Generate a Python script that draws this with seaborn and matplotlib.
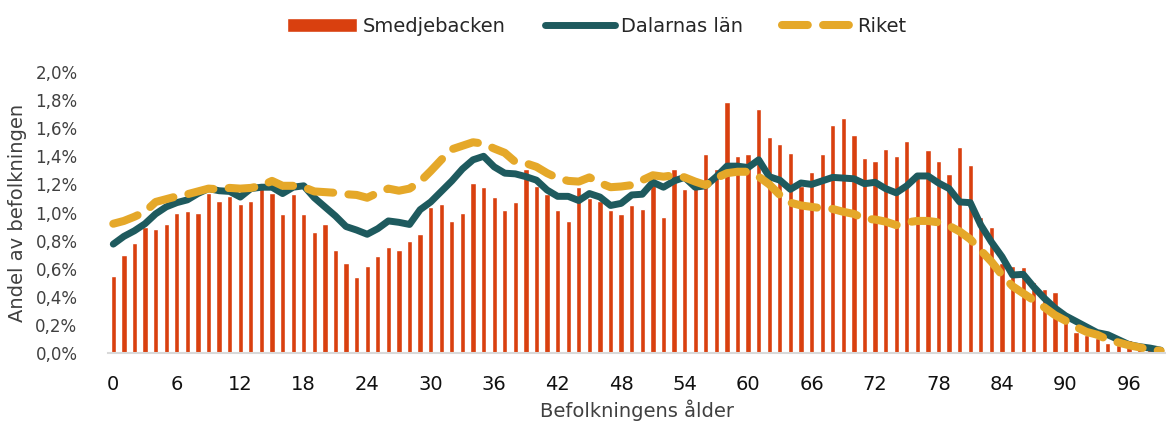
import numpy as np
import pandas as pd
import matplotlib
matplotlib.use('Agg')
import matplotlib.pyplot as plt
import seaborn as sns
from matplotlib.ticker import FuncFormatter

# data: andel av befolkningen (%) per ålder 0-99
ages = list(range(100))

smedjebacken = [
    0.55, 0.70, 0.785, 0.895, 0.88, 0.915, 1.00, 1.01, 1.00, 1.14,
    1.08, 1.12, 1.06, 1.08, 1.20, 1.14, 0.99, 1.13, 0.99, 0.86,
    0.92, 0.73, 0.64, 0.54, 0.62, 0.69, 0.755, 0.73, 0.795, 0.85,
    1.04, 1.06, 0.94, 1.00, 1.21, 1.18, 1.11, 1.015, 1.075, 1.31,
    1.19, 1.13, 1.015, 0.94, 1.18, 1.10, 1.08, 1.02, 0.99, 1.05,
    1.025, 1.275, 0.965, 1.31, 1.165, 1.18, 1.415, 1.31, 1.785, 1.405,
    1.415, 1.74, 1.535, 1.49, 1.425, 1.19, 1.285, 1.415, 1.62, 1.675,
    1.555, 1.385, 1.37, 1.45, 1.40, 1.51, 1.25, 1.445, 1.37, 1.275,
    1.465, 1.335, 0.97, 0.90, 0.64, 0.62, 0.61, 0.505, 0.455, 0.435,
    0.26, 0.15, 0.13, 0.105, 0.07, 0.057, 0.09, 0.04, 0.03, 0.01,
]

dalarna = [
    0.775, 0.83, 0.87, 0.92, 0.99, 1.04, 1.07, 1.09, 1.135, 1.17,
    1.155, 1.15, 1.11, 1.17, 1.18, 1.18, 1.135, 1.18, 1.19, 1.105,
    1.04, 0.975, 0.90, 0.875, 0.845, 0.885, 0.94, 0.93, 0.915, 1.02,
    1.075, 1.15, 1.225, 1.31, 1.375, 1.40, 1.325, 1.28, 1.275, 1.255,
    1.23, 1.16, 1.115, 1.115, 1.085, 1.135, 1.11, 1.05, 1.065, 1.125,
    1.13, 1.215, 1.18, 1.225, 1.25, 1.18, 1.19, 1.255, 1.33, 1.33,
    1.32, 1.375, 1.255, 1.23, 1.165, 1.21, 1.20, 1.225, 1.25, 1.245,
    1.24, 1.205, 1.215, 1.17, 1.14, 1.19, 1.26, 1.26, 1.21, 1.17,
    1.075, 1.07, 0.91, 0.79, 0.685, 0.555, 0.56, 0.47, 0.39, 0.32,
    0.265, 0.225, 0.185, 0.145, 0.13, 0.095, 0.06, 0.045, 0.035, 0.02,
]

riket = [
    0.92, 0.94, 0.97, 1.005, 1.075, 1.095, 1.115, 1.13, 1.15, 1.17,
    1.165, 1.175, 1.17, 1.175, 1.19, 1.225, 1.19, 1.19, 1.18, 1.15,
    1.145, 1.14, 1.13, 1.125, 1.105, 1.14, 1.17, 1.155, 1.17, 1.22,
    1.295, 1.375, 1.45, 1.475, 1.50, 1.49, 1.455, 1.425, 1.36, 1.35,
    1.325, 1.28, 1.245, 1.225, 1.22, 1.25, 1.21, 1.18, 1.185, 1.195,
    1.23, 1.265, 1.255, 1.265, 1.25, 1.22, 1.195, 1.245, 1.28, 1.29,
    1.29, 1.255, 1.20, 1.125, 1.07, 1.05, 1.04, 1.03, 1.025, 1.005,
    0.99, 0.955, 0.95, 0.935, 0.91, 0.93, 0.94, 0.94, 0.93, 0.905,
    0.865, 0.81, 0.73, 0.65, 0.555, 0.475, 0.425, 0.375, 0.325, 0.27,
    0.23, 0.185, 0.15, 0.13, 0.095, 0.075, 0.055, 0.04, 0.025, 0.015,
]

xtick_pos = list(range(0, 97, 6))

# colours
bar_color = '#D9400F'
dal_color = '#1E5A5E'
rik_color = '#E5A829'

df = pd.DataFrame({'Ålder': ages, 'Smedjebacken': smedjebacken,
                   'Dalarnas län': dalarna, 'Riket': riket})

sns.set_style('white')
plt.rcParams['font.family'] = ['DejaVu Sans']

fig = plt.figure(figsize=(11.66, 4.30), dpi=100)
ax = fig.add_axes([108 / 1166, 1 - 353 / 430, 1 - 108 / 1166, (353 - 72) / 430])

# bars
sns.barplot(data=df, x='Ålder', y='Smedjebacken', color=bar_color,
            width=0.5, ax=ax, label='Smedjebacken', saturation=1)

# lines (categorical positions 0..99 = age)
sns.lineplot(data=df, x='Ålder', y='Dalarnas län', color=dal_color,
             linewidth=5, ax=ax, label='Dalarnas län',
             solid_capstyle='round', solid_joinstyle='round')
sns.lineplot(data=df, x='Ålder', y='Riket', color=rik_color,
             linewidth=5.8, ax=ax, label='Riket')
rik_line = ax.get_lines()[-1]
rik_line.set_dashes([3.2, 1.9])
rik_line.set_dash_capstyle('round')

ax.set_xlim(-0.5, 99.5)
ax.set_ylim(0, 2.0)
ax.set_yticks(np.arange(0, 2.01, 0.2))
ax.yaxis.set_major_formatter(FuncFormatter(lambda v, p: f'{v:.1f}%'.replace('.', ',')))
ax.set_xticks(xtick_pos)
ax.set_xticklabels([str(a) for a in xtick_pos])

ax.tick_params(axis='y', length=0, labelsize=12, labelcolor='#404040', pad=22)
ax.tick_params(axis='x', length=0, labelsize=14, labelcolor='#111111', pad=16)

for s in ['top', 'right', 'left']:
    ax.spines[s].set_visible(False)
ax.spines['bottom'].set_color('#D9D9D9')
ax.spines['bottom'].set_linewidth(1.5)
ax.grid(False)

ax.set_xlabel('Befolkningens ålder', fontsize=14, color='#404040', labelpad=4)
ax.set_ylabel('Andel av befolkningen', fontsize=14, color='#404040', labelpad=6)

handles, labels = ax.get_legend_handles_labels()
order = [labels.index(n) for n in ['Smedjebacken', 'Dalarnas län', 'Riket']]
leg = ax.legend([handles[i] for i in order], [labels[i] for i in order],
                loc='center', bbox_to_anchor=(597 / 1166, 1 - 26 / 430),
                bbox_transform=fig.transFigure, ncol=3, frameon=False,
                fontsize=14, handlelength=3.6, columnspacing=2.0, handletextpad=0.3)
for t in leg.get_texts():
    t.set_color('#262626')

fig.savefig('out.png', dpi=100)
